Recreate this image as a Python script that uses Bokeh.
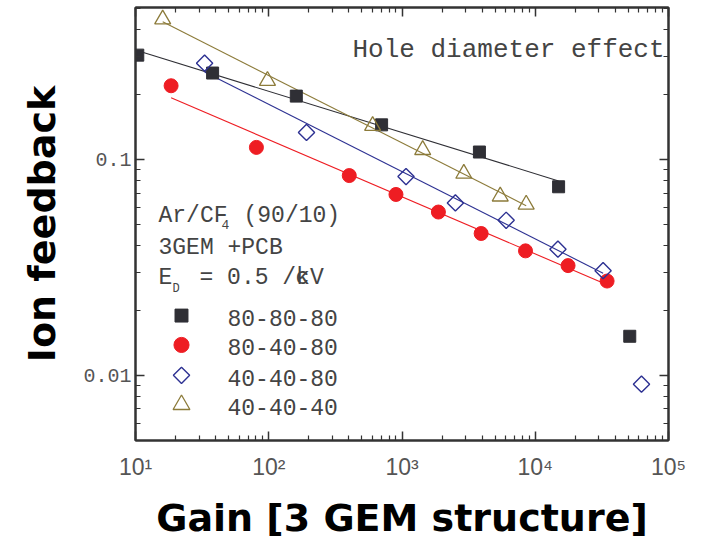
import numpy as np
from bokeh.plotting import figure
from bokeh.models import FixedTicker, LogAxis, Label, Range1d
from bokeh.embed import file_html
from bokeh.resources import INLINE

# ---------------- data ----------------
gain_808080 = [10.4, 37.9, 161, 703, 3810, 14970, 51200]
fb_808080 = [0.305, 0.252, 0.197, 0.145, 0.1085, 0.0749, 0.0152]

gain_804080 = [18.5, 80.8, 402, 901, 1876, 3926, 8450, 17630, 34600]
fb_804080 = [0.220, 0.114, 0.0844, 0.069, 0.0572, 0.0455, 0.0378, 0.0323, 0.0274]

gain_404080 = [33, 192, 1072, 2516, 6050, 14800, 32300, 62700]
fb_404080 = [0.280, 0.1337, 0.0835, 0.063, 0.0524, 0.0385, 0.0306, 0.00912]

gain_404040 = [16, 97.8, 602, 1430, 2910, 5460, 8550]
fb_404040 = [0.447, 0.232, 0.1435, 0.111, 0.0862, 0.0676, 0.062]

# number of leading points used for each straight-line (log-log) fit
fit_points = {"80-80-80": 6, "80-40-80": 9, "40-40-80": 7, "40-40-40": 7}

series_labels = ["80-80-80", "80-40-80", "40-40-80", "40-40-40"]
x_ticks = [10, 100, 1000, 10000, 100000]
x_tick_labels = ["10\u00b9", "10\u00b2", "10\u00b3", "10\u2074", "10\u2075"]
y_ticks = [0.01, 0.1]
y_tick_labels = ["0.01", "0.1"]

# ---------------- figure ----------------
W, H = 709, 542
FL, FR, FT, FB = 135, 668, 7, 442          # frame edges in pixels
XMIN, XMAX = 10, 1e5
YMIN, YMAX = 0.005, 0.507

p = figure(width=W, height=H, x_axis_type="log", y_axis_type="log",
           x_range=Range1d(XMIN, XMAX), y_range=Range1d(YMIN, YMAX),
           output_backend="svg", toolbar_location=None,
           min_border_left=FL, min_border_right=W - FR,
           min_border_top=FT, min_border_bottom=H - FB)
p.background_fill_color = "white"
p.border_fill_color = "white"
p.outline_line_color = "#333333"
p.outline_line_width = 2
p.xgrid.visible = False
p.ygrid.visible = False

x_minor = [m * 10 ** e for e in range(1, 5) for m in range(2, 10)]
y_minor = [m * 10 ** e for e in (-3, -2, -1) for m in range(2, 10) if m * 10 ** e <= YMAX]
xt = FixedTicker(ticks=x_ticks, minor_ticks=x_minor)
yt = FixedTicker(ticks=y_ticks, minor_ticks=y_minor)

AX_COL = "#333333"


def style_axis(ax):
    ax.axis_line_color = AX_COL
    ax.axis_line_width = 2
    ax.major_tick_line_color = AX_COL
    ax.minor_tick_line_color = AX_COL
    ax.major_tick_line_width = 1.5
    ax.minor_tick_line_width = 1.2
    ax.major_tick_in = 9
    ax.major_tick_out = 0
    ax.minor_tick_in = 5
    ax.minor_tick_out = 0


xa = p.xaxis[0]
xa.ticker = xt
style_axis(xa)
xa.major_label_overrides = {t: s for t, s in zip(x_ticks, x_tick_labels)}
xa.major_label_text_font = "Liberation Sans"
xa.major_label_text_font_size = "23px"
xa.major_label_text_color = "#555555"
xa.major_label_standoff = 13
xa.axis_label = "Gain [3 GEM structure]"
xa.axis_label_text_font = "DejaVu Sans"
xa.axis_label_text_font_style = "bold"
xa.axis_label_text_font_size = "38px"
xa.axis_label_text_color = "black"
xa.axis_label_standoff = 13

ya = p.yaxis[0]
ya.ticker = yt
style_axis(ya)
ya.major_label_overrides = {t: s for t, s in zip(y_ticks, y_tick_labels)}
ya.major_label_text_font = "Liberation Mono"
ya.major_label_text_font_size = "20px"
ya.major_label_text_color = "#555555"
ya.major_label_standoff = 4
ya.axis_label = "Ion feedback"
ya.axis_label_text_font = "DejaVu Sans"
ya.axis_label_text_font_style = "bold"
ya.axis_label_text_font_size = "38px"
ya.axis_label_text_color = "black"
ya.axis_label_standoff = 16

top = LogAxis(ticker=xt)
right = LogAxis(ticker=yt)
for ax in (top, right):
    style_axis(ax)
    ax.major_label_text_font_size = "1px"
    ax.major_label_text_alpha = 0
    ax.major_label_standoff = 0
p.add_layout(top, "above")
p.add_layout(right, "right")

# ---------------- data series ----------------
colors = {"80-80-80": "#2f2f35", "80-40-80": "#ee1d23",
          "40-40-80": "#2d3192", "40-40-40": "#8c7b3a"}
data = {"80-80-80": (gain_808080, fb_808080),
        "80-40-80": (gain_804080, fb_804080),
        "40-40-80": (gain_404080, fb_404080),
        "40-40-40": (gain_404040, fb_404040)}
marker_style = {
    "80-80-80": dict(marker="square", size=12, angle=0.0, filled=True, lw=1.0),
    "80-40-80": dict(marker="circle", size=14, angle=0.0, filled=True, lw=1.0),
    "40-40-80": dict(marker="square", size=11.5, angle=np.pi / 4, filled=False, lw=1.4),
    "40-40-40": dict(marker="triangle", size=16, angle=0.0, filled=False, lw=1.3),
}


def add_markers(xs, ys, lab, scale=1.0):
    st = marker_style[lab]
    c = colors[lab]
    return p.scatter(xs, ys, marker=st["marker"], size=st["size"] * scale, angle=st["angle"],
                     fill_color=c if st["filled"] else None, line_color=c,
                     line_width=st["lw"])


for lab in series_labels:
    gx, fy = data[lab]
    n = fit_points[lab]
    k, b = np.polyfit(np.log10(gx[:n]), np.log10(fy[:n]), 1)
    ex = np.array([gx[0], gx[n - 1]])
    ey = 10 ** (k * np.log10(ex) + b)
    p.line(ex, ey, line_color=colors[lab], line_width=1.1)

for lab in series_labels:
    gx, fy = data[lab]
    add_markers(gx, fy, lab)

# ---------------- pixel helpers for in-frame annotations ----------------
lx_dec = np.log10(XMAX / XMIN) / (FR - FL)
ly_dec = np.log10(YMAX / YMIN) / (FB - FT)


def px_x(px):
    return 10 ** (np.log10(XMIN) + (px - FL) * lx_dec)


def px_y(py):
    return 10 ** (np.log10(YMAX) - (py - FT) * ly_dec)


TXT = "#444444"
TEXT_SHIFT = 5   # rendered baseline sits a little lower than requested


def add_text(text, px, baseline_py, size, color=TXT):
    p.add_layout(Label(x=XMIN, y=YMIN, x_offset=px - FL,
                       y_offset=FB - (baseline_py - TEXT_SHIFT),
                       text=text, text_font="Liberation Mono",
                       text_font_size=f"{size}px", text_color=color,
                       text_baseline="alphabetic", text_align="left"))


add_text("Hole diameter effect", 352, 56, 26)
add_text("Ar/CF", 158, 222, 23)
add_text("4", 221, 231, 13)
add_text("(90/10)", 243, 222, 23)
add_text("3GEM +PCB", 158, 254, 23)
add_text("E", 158, 284, 23)
add_text("D", 172, 295, 12)
add_text("= 0.5 /kV", 199, 284, 23)
add_text("c", 295, 284, 23)

# ---------------- legend (key markers + labels) ----------------
legend_rows_py = [316.5, 346, 376.5, 406]
legend_marker_scale = {"80-80-80": 1.08, "80-40-80": 1.08, "40-40-80": 1.0, "40-40-40": 1.05}
for lab, py in zip(series_labels, legend_rows_py):
    add_markers([px_x(181)], [px_y(py)], lab, scale=legend_marker_scale[lab])
    add_text(lab, 227, py + 7.5, 23)

open("out.html", "w").write(file_html(p, INLINE))
